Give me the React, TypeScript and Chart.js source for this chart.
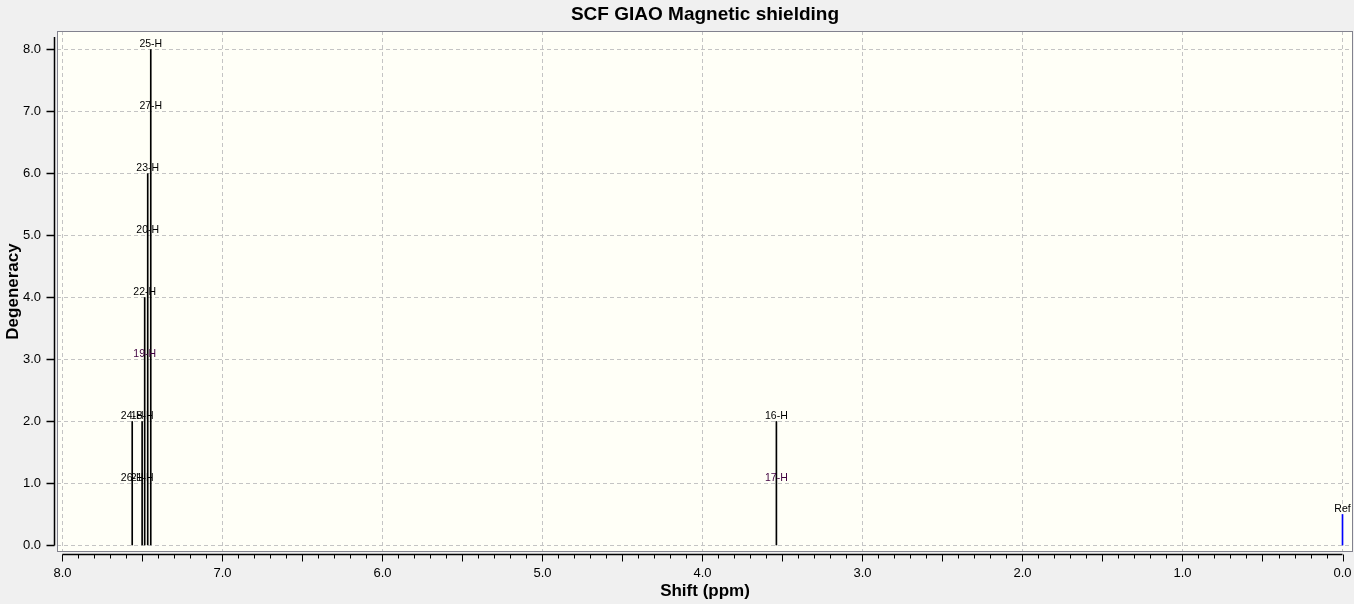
import React, { useEffect, useRef } from 'react';
import { Chart, registerables } from 'chart.js';

Chart.register(...registerables);

const FONT = "'Liberation Sans', Arial, sans-serif";

// Peaks: chemical shift (ppm) and degeneracy
const peakShifts = [7.564, 7.502, 7.486, 7.467, 7.448, 3.538];
const peakDegeneracy = [2, 2, 4, 6, 8, 2];

// Reference line
const refShifts = [0.0];
const refHeights = [0.5];

// Atom labels stacked on the peaks
const atomLabels = ['26-H', '24-H', '21-H', '18-H', '19-H', '22-H', '20-H', '23-H', '27-H', '25-H', '17-H', '16-H', 'Ref'];
const atomLabelShifts = [7.564, 7.564, 7.502, 7.502, 7.486, 7.486, 7.467, 7.467, 7.448, 7.448, 3.538, 3.538, 0.0];
const atomLabelLevels = [1, 2, 1, 2, 3, 4, 5, 6, 7, 8, 1, 2, 0.5];

// Axis ticks
const shiftTicks = [0, 1, 2, 3, 4, 5, 6, 7, 8];
const degeneracyTicks = [0, 1, 2, 3, 4, 5, 6, 7, 8];

const purpleLabels = ['17-H', '19-H'];

const spectrumDecor = {
  id: 'spectrumDecor',
  beforeDraw(chart: any) {
    const { ctx, chartArea: a, width, height } = chart;
    ctx.save();
    ctx.fillStyle = '#f0f0f0';
    ctx.fillRect(0, 0, width, height);
    ctx.fillStyle = '#fffff7';
    ctx.fillRect(a.left, a.top, a.right - a.left, a.bottom - a.top);
    ctx.restore();
  },
  afterDatasetsDraw(chart: any) {
    const { ctx, chartArea: a, scales } = chart;
    const x = scales.x;
    const y = scales.y;
    ctx.save();
    ctx.strokeStyle = '#82828e';
    ctx.lineWidth = 1;
    ctx.strokeRect(a.left + 0.5, a.top + 0.5, a.right - a.left - 1, a.bottom - a.top - 1);

    ctx.font = `10.5px ${FONT}`;
    ctx.textAlign = 'center';
    ctx.textBaseline = 'alphabetic';
    atomLabels.forEach((t, i) => {
      ctx.fillStyle = purpleLabels.includes(t) ? '#400040' : '#000000';
      ctx.fillText(t, x.getPixelForValue(atomLabelShifts[i]), y.getPixelForValue(atomLabelLevels[i]) - 2);
    });
    ctx.restore();
  },
  afterDraw(chart: any) {
    const { ctx, chartArea: a, scales } = chart;
    const x = scales.x;
    const y = scales.y;
    ctx.save();
    ctx.strokeStyle = '#000000';

    // x axis line + ticks
    const axY = a.bottom + 2.5;
    ctx.lineWidth = 1.5;
    ctx.beginPath();
    ctx.moveTo(x.getPixelForValue(8), axY);
    ctx.lineTo(x.getPixelForValue(0), axY);
    ctx.stroke();
    ctx.lineWidth = 1;
    ctx.beginPath();
    for (let i = 0; i <= 80; i++) {
      const px = Math.round(x.getPixelForValue(i / 10)) + 0.5;
      const len = i % 5 === 0 ? 7 : 4;
      ctx.moveTo(px, axY);
      ctx.lineTo(px, axY + len);
    }
    ctx.stroke();

    // y axis line + ticks
    const axX = a.left - 2.5;
    ctx.lineWidth = 1.5;
    ctx.beginPath();
    ctx.moveTo(axX, y.getPixelForValue(0));
    ctx.lineTo(axX, a.top + 6);
    ctx.stroke();
    ctx.beginPath();
    degeneracyTicks.forEach(v => {
      const py = Math.round(y.getPixelForValue(v)) + 0.5;
      ctx.moveTo(axX - 8, py);
      ctx.lineTo(axX, py);
    });
    ctx.stroke();

    // title
    ctx.fillStyle = '#000000';
    ctx.font = `bold 19px ${FONT}`;
    ctx.textAlign = 'center';
    ctx.textBaseline = 'middle';
    ctx.fillText('SCF GIAO Magnetic shielding', (a.left + a.right) / 2, 15);
    ctx.restore();
  },
};

export default function App() {
  const canvasRef = useRef<HTMLCanvasElement>(null);

  useEffect(() => {
    if (!canvasRef.current) return;
    const chart = new Chart(canvasRef.current, {
      type: 'bar',
      data: {
        datasets: [
          {
            label: 'Shielding',
            data: peakShifts.map((s, i) => ({ x: s, y: peakDegeneracy[i] })),
            backgroundColor: '#000000',
            borderWidth: 0,
            barThickness: 1,
            grouped: false,
          } as any,
          {
            label: 'Ref',
            data: refShifts.map((s, i) => ({ x: s, y: refHeights[i] })),
            backgroundColor: '#0000ff',
            borderWidth: 0,
            barThickness: 1,
            grouped: false,
          } as any,
        ],
      },
      options: {
        responsive: true,
        maintainAspectRatio: false,
        animation: false,
        events: [],
        layout: { padding: { top: 31, right: 1, bottom: 0, left: 0 } },
        plugins: {
          legend: { display: false },
          title: { display: false },
          tooltip: { enabled: false },
        },
        scales: {
          x: {
            type: 'linear',
            reverse: true,
            min: -0.0656,
            max: 8.034,
            offset: false,
            grid: { offset: false, color: '#c4c4c4', drawTicks: false, lineWidth: 1 },
            border: { display: false, dash: [4, 3] },
            ticks: {
              padding: 14,
              color: '#000000',
              font: { family: FONT, size: 13 },
              maxRotation: 0,
              autoSkip: false,
              callback: (v: any) => Number(v).toFixed(1),
            },
            afterBuildTicks: (s: any) => {
              s.ticks = shiftTicks.map(v => ({ value: v }));
            },
            afterFit: (s: any) => {
              s.height = 52;
            },
            title: {
              display: true,
              text: 'Shift (ppm)',
              color: '#000000',
              font: { family: FONT, size: 17, weight: 'bold' },
              padding: { top: 0, bottom: 2 },
            },
          },
          y: {
            type: 'linear',
            min: -0.105,
            max: 8.298,
            grid: { color: '#c4c4c4', drawTicks: false, lineWidth: 1 },
            border: { display: false, dash: [4, 3] },
            ticks: {
              padding: 16,
              color: '#000000',
              font: { family: FONT, size: 13 },
              callback: (v: any) => Number(v).toFixed(1),
            },
            afterBuildTicks: (s: any) => {
              s.ticks = degeneracyTicks.map(v => ({ value: v }));
            },
            afterFit: (s: any) => {
              s.width = 57;
            },
            title: {
              display: true,
              text: 'Degeneracy',
              color: '#000000',
              font: { family: FONT, size: 17, weight: 'bold' },
              padding: { top: 3, bottom: 0 },
            },
          },
        },
      },
      plugins: [spectrumDecor],
    });
    return () => chart.destroy();
  }, []);

  return (
    <div style={{ position: 'fixed', left: 0, top: 0, width: 1354, height: 604, background: '#f0f0f0' }}>
      <canvas ref={canvasRef} />
    </div>
  );
}
